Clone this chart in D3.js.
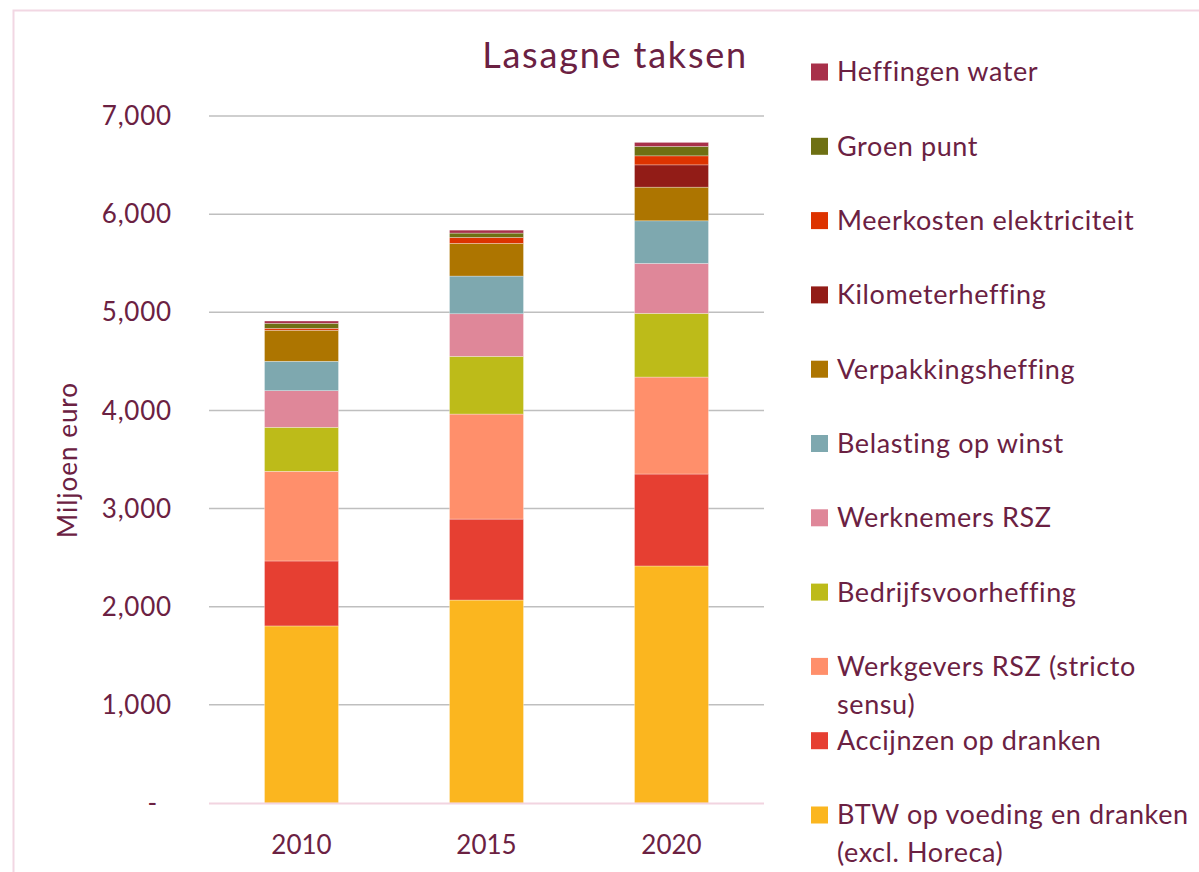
<!DOCTYPE html>
<html><head><meta charset="utf-8">
<script src="https://cdn.jsdelivr.net/npm/d3@7"></script>
<style>body{margin:0;background:#fff}svg{display:block}text{font-family:Lato,"Noto Sans",sans-serif;fill:#6B2142}</style>
</head><body><svg id="c" width="1199" height="872"></svg>
<script>
const years = ["2010","2015","2020"];
// series from bottom to top of stack
const seriesNames = ["BTW op voeding en dranken (excl. Horeca)","Accijnzen op dranken","Werkgevers RSZ (stricto sensu)","Bedrijfsvoorheffing","Werknemers RSZ","Belasting op winst","Verpakkingsheffing","Kilometerheffing","Meerkosten elektriciteit","Groen punt","Heffingen water"];
const btw = [1804, 2068, 2415];
const accijnzen = [662, 825, 937];
const werkgevers = [914, 1070, 988];
const bedrijfs = [448, 588, 649];
const werknemers = [373, 434, 509];
const winst = [300, 384, 434];
const verpakking = [316, 333, 343];
const kilometer = [0, 0, 227];
const meerkosten = [20, 61, 92];
const groen = [51, 44, 96];
const water = [23, 30, 41];
const colors = ["#FBB61F","#E63F32","#FF8F6B","#BDBB19","#DF8799","#7EA8AF","#AD7500","#921C17","#DD3300","#6E7013","#A8304A"];
const yTicks = [0,1000,2000,3000,4000,5000,6000,7000];
const legendLines = {"BTW op voeding en dranken (excl. Horeca)":["BTW op voeding en dranken","(excl. Horeca)"],"Werkgevers RSZ (stricto sensu)":["Werkgevers RSZ (stricto","sensu)"]};

const values = [btw,accijnzen,werkgevers,bedrijfs,werknemers,winst,verpakking,kilometer,meerkosten,groen,water];
const rows = years.map((y,i)=>{const o={year:y};seriesNames.forEach((s,k)=>o[s]=values[k][i]);return o;});
const stack = d3.stack().keys(seriesNames)(rows);

const svg = d3.select("#c");
svg.append("rect").attr("x",13.5).attr("y",10.5).attr("width",1300).attr("height",1000)
  .attr("fill","none").attr("stroke","#F2D7E3").attr("stroke-width",2);

const x = d3.scaleBand().domain(years).range([209,764]).paddingInner(0.6).paddingOuter(0.3);
const y = d3.scaleLinear().domain([0,7000]).range([803,116]);

const fmt = d=> d===0 ? "-" : d3.format(",")(d);
// gridlines
svg.append("g").selectAll("line").data(yTicks.filter(d=>d>0)).join("line")
  .attr("x1",209).attr("x2",764).attr("y1",d=>y(d)).attr("y2",d=>y(d))
  .attr("stroke","#BFBFBF").attr("stroke-width",1.5);
// y labels
svg.append("g").selectAll("text").data(yTicks).join("text")
  .attr("x",d=>d===0?158:172).attr("y",d=>y(d)).attr("dy","0.35em")
  .attr("text-anchor","end").attr("font-size",26).attr("letter-spacing",0.8).text(fmt);

// bars
svg.append("g").selectAll("g").data(stack).join("g")
  .attr("fill",(d,i)=>colors[i])
  .selectAll("rect").data(d=>d).join("rect")
  .attr("x",d=>x(d.data.year)).attr("width",x.bandwidth())
  .attr("y",d=>y(d[1])).attr("height",d=>Math.max(0,y(d[0])-y(d[1])))
  .attr("stroke","rgba(255,255,255,0.5)").attr("stroke-width",0.6);

// baseline
svg.append("line").attr("x1",209).attr("x2",764).attr("y1",y(0)+0.5).attr("y2",y(0)+0.5)
  .attr("stroke","#F2D4E0").attr("stroke-width",2);

// x labels
svg.append("g").selectAll("text").data(years).join("text")
  .attr("x",d=>x(d)+x.bandwidth()/2).attr("y",845).attr("dy","0.35em")
  .attr("text-anchor","middle").attr("font-size",26).text(d=>d);

// y title
svg.append("text").attr("transform","translate(68,460) rotate(-90)")
  .attr("text-anchor","middle").attr("dy","0.35em").attr("font-size",26).attr("letter-spacing",1).text("Miljoen euro");

// title
svg.append("text").attr("x",748).attr("y",68).attr("text-anchor","end")
  .attr("font-size",36).attr("letter-spacing",1.8).text("Lasagne taksen");

// legend (top to bottom = reverse stack order)
const legOrder = seriesNames.slice().reverse();
const lg = svg.append("g").selectAll("g").data(legOrder).join("g")
  .attr("transform",(d,i)=>`translate(811,${72+i*74.3})`);
lg.append("rect").attr("x",0).attr("y",-8.5).attr("width",17).attr("height",17)
  .attr("fill",d=>colors[seriesNames.indexOf(d)]);
lg.each(function(d){
  const lines = legendLines[d] || [d];
  const t = d3.select(this).append("text").attr("x",26).attr("y",0).attr("font-size",27).attr("letter-spacing",0.6);
  lines.forEach((l,j)=>t.append("tspan").attr("x",26).attr("dy",j===0?"0.35em":38).text(l));
});
</script></body></html>
